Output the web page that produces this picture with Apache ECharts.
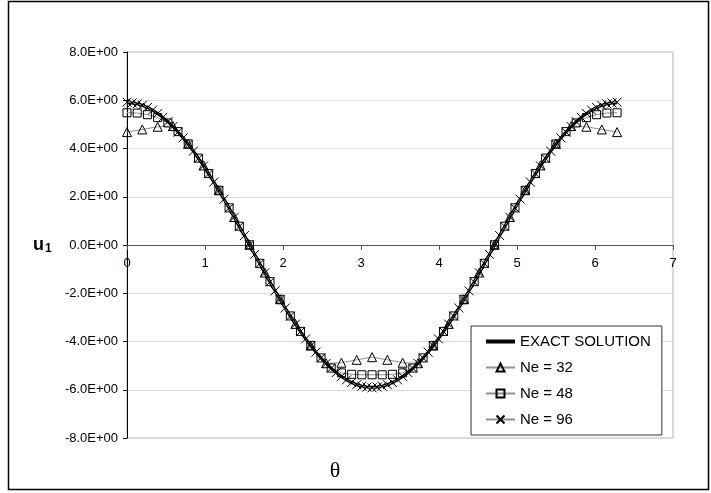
<!DOCTYPE html>
<html>
<head>
<meta charset="utf-8">
<script src="https://cdn.jsdelivr.net/npm/echarts@6/dist/echarts.min.js"></script>
<style>
  html, body { margin: 0; padding: 0; background: #fff; }
  #chart { width: 711px; height: 493px; }
</style>
</head>
<body>
<div id="chart"></div>
<script>
// theta positions of the nodes
const theta96 = [0, 0.065, 0.131, 0.196, 0.262, 0.327, 0.393, 0.458, 0.524, 0.589, 0.654, 0.720, 0.785, 0.851, 0.916, 0.982,
  1.047, 1.113, 1.178, 1.244, 1.309, 1.374, 1.440, 1.505, 1.571, 1.636, 1.702, 1.767, 1.833, 1.898, 1.963, 2.029,
  2.094, 2.160, 2.225, 2.291, 2.356, 2.422, 2.487, 2.553, 2.618, 2.683, 2.749, 2.814, 2.880, 2.945, 3.011, 3.076,
  3.142, 3.207, 3.272, 3.338, 3.403, 3.469, 3.534, 3.600, 3.665, 3.731, 3.796, 3.861, 3.927, 3.992, 4.058, 4.123,
  4.189, 4.254, 4.320, 4.385, 4.451, 4.516, 4.581, 4.647, 4.712, 4.778, 4.843, 4.909, 4.974, 5.040, 5.105, 5.171,
  5.236, 5.301, 5.367, 5.432, 5.498, 5.563, 5.629, 5.694, 5.760, 5.825, 5.890, 5.956, 6.021, 6.087, 6.152, 6.218, 6.283];

const theta48 = [0, 0.131, 0.262, 0.393, 0.524, 0.654, 0.785, 0.916, 1.047, 1.178, 1.309, 1.440, 1.571, 1.702, 1.833, 1.963,
  2.094, 2.225, 2.356, 2.487, 2.618, 2.749, 2.880, 3.011, 3.142, 3.272, 3.403, 3.534, 3.665, 3.796, 3.927, 4.058,
  4.189, 4.320, 4.451, 4.581, 4.712, 4.843, 4.974, 5.105, 5.236, 5.367, 5.498, 5.629, 5.760, 5.890, 6.021, 6.152, 6.283];

const theta32 = [0, 0.196, 0.393, 0.589, 0.785, 0.982, 1.178, 1.374, 1.571, 1.767, 1.963, 2.160, 2.356, 2.553, 2.749, 2.945,
  3.142, 3.338, 3.534, 3.731, 3.927, 4.123, 4.320, 4.516, 4.712, 4.909, 5.105, 5.301, 5.498, 5.694, 5.890, 6.087, 6.283];

// u1 values
const exactU = [5.90, 5.89, 5.85, 5.79, 5.70, 5.59, 5.45, 5.29, 5.11, 4.91, 4.68, 4.44, 4.17, 3.89, 3.59, 3.28,
  2.95, 2.61, 2.26, 1.90, 1.53, 1.15, 0.77, 0.39, 0.00, -0.39, -0.77, -1.15, -1.53, -1.90, -2.26, -2.61,
  -2.95, -3.28, -3.59, -3.89, -4.17, -4.44, -4.68, -4.91, -5.11, -5.29, -5.45, -5.59, -5.70, -5.79, -5.85, -5.89,
  -5.90, -5.89, -5.85, -5.79, -5.70, -5.59, -5.45, -5.29, -5.11, -4.91, -4.68, -4.44, -4.17, -3.89, -3.59, -3.28,
  -2.95, -2.61, -2.26, -1.90, -1.53, -1.15, -0.77, -0.39, 0.00, 0.39, 0.77, 1.15, 1.53, 1.90, 2.26, 2.61,
  2.95, 3.28, 3.59, 3.89, 4.17, 4.44, 4.68, 4.91, 5.11, 5.29, 5.45, 5.59, 5.70, 5.79, 5.85, 5.89, 5.90];

const ne96U = [5.92, 5.89, 5.85, 5.79, 5.70, 5.59, 5.45, 5.29, 5.11, 4.91, 4.68, 4.44, 4.17, 3.89, 3.59, 3.28,
  2.95, 2.61, 2.26, 1.90, 1.53, 1.15, 0.77, 0.39, 0.00, -0.39, -0.77, -1.15, -1.53, -1.90, -2.26, -2.61,
  -2.95, -3.28, -3.59, -3.89, -4.17, -4.44, -4.68, -4.91, -5.11, -5.29, -5.45, -5.59, -5.70, -5.79, -5.85, -5.89,
  -5.92, -5.89, -5.85, -5.79, -5.70, -5.59, -5.45, -5.29, -5.11, -4.91, -4.68, -4.44, -4.17, -3.89, -3.59, -3.28,
  -2.95, -2.61, -2.26, -1.90, -1.53, -1.15, -0.77, -0.39, 0.00, 0.39, 0.77, 1.15, 1.53, 1.90, 2.26, 2.61,
  2.95, 3.28, 3.59, 3.89, 4.17, 4.44, 4.68, 4.91, 5.11, 5.29, 5.45, 5.59, 5.70, 5.79, 5.85, 5.89, 5.92];

const ne48U = [5.48, 5.47, 5.40, 5.28, 5.06, 4.70, 4.19, 3.60, 2.96, 2.27, 1.54, 0.78, 0.01, -0.76, -1.52, -2.25,
  -2.94, -3.58, -4.16, -4.68, -5.10, -5.30, -5.36, -5.38, -5.38, -5.38, -5.36, -5.30, -5.10, -4.68, -4.16, -3.58,
  -2.94, -2.25, -1.52, -0.76, 0.01, 0.78, 1.54, 2.27, 2.96, 3.60, 4.19, 4.70, 5.06, 5.28, 5.40, 5.47, 5.48];

const ne32U = [4.68, 4.79, 4.90, 4.93, 4.20, 3.30, 2.27, 1.16, 0.01, -1.14, -2.25, -3.27, -4.17, -4.90, -4.88, -4.76,
  -4.65, -4.76, -4.88, -4.90, -4.17, -3.27, -2.25, -1.14, 0.01, 1.16, 2.27, 3.30, 4.20, 4.93, 4.90, 4.79, 4.68];

const seriesNames = ['EXACT SOLUTION', 'Ne = 32', 'Ne = 48', 'Ne = 96'];

const pair = (xs, ys) => xs.map((x, i) => [x, ys[i]]);

const chart = echarts.init(document.getElementById('chart'));

const markerLine = '#7f9898';
const crossPath = 'path://M0,0L10,10M10,0L0,10';
const hollow = 'rgba(255,255,255,0)';

const option = {
  animation: false,
  textStyle: { fontFamily: 'Liberation Sans, Arial, sans-serif' },
  grid: {
    left: 127,
    top: 52,
    width: 546,
    height: 386,
    show: true,
    borderColor: '#a8b4b4',
    borderWidth: 1
  },
  legend: {
    data: [
      // 정답 곡선은 선만 보이게
      { name: seriesNames[0], itemStyle: { color: hollow, borderWidth: 0 }, lineStyle: { width: 4, color: '#000' } },
      { name: seriesNames[1] },
      { name: seriesNames[2] },
      { name: seriesNames[3] }
    ],
    orient: 'vertical',
    left: 471,
    top: 326,
    padding: [8, 11, 8, 13],
    itemWidth: 29,
    itemHeight: 10,
    itemGap: 11,
    backgroundColor: '#fff',
    borderColor: '#333',
    borderWidth: 1,
    textStyle: { fontSize: 15, color: '#000', fontFamily: 'Liberation Sans, Arial, sans-serif' }
  },
  xAxis: {
    type: 'value',
    min: 0,
    max: 7,
    interval: 1,
    offset: -193,
    axisLine: { onZero: false, lineStyle: { color: '#555', width: 1 } },
    axisTick: { show: true, length: 5, lineStyle: { color: '#555' } },
    axisLabel: { fontSize: 13, color: '#000', margin: 12 },
    splitLine: { show: false }
  },
  yAxis: {
    type: 'value',
    min: -8,
    max: 8,
    interval: 2,
    axisLine: { show: true, onZero: false, lineStyle: { color: '#000', width: 1 } },
    axisTick: { show: true, length: 4, lineStyle: { color: '#000' } },
    axisLabel: {
      fontSize: 13,
      color: '#000',
      margin: 9,
      formatter: (v) => v.toFixed(1) + 'E+00'
    },
    splitLine: { show: true, lineStyle: { color: '#d4dede', width: 1 } }
  },
  graphic: [
    {
      type: 'rect',
      shape: { x: 8.5, y: 1.5, width: 700, height: 488 },
      style: { fill: 'none', stroke: '#000', lineWidth: 1.5 },
      silent: true
    },
    {
      type: 'text',
      x: 33,
      y: 245,
      style: {
        text: '{u|u}{s|1}',
        verticalAlign: 'middle',
        rich: {
          u: { fontSize: 18, fontWeight: 'bold', fontFamily: 'Liberation Sans, Arial', fill: '#000' },
          s: { fontSize: 12, fontWeight: 'bold', fontFamily: 'Liberation Sans, Arial', fill: '#000', padding: [8, 0, 0, 1] }
        }
      }
    },
    {
      type: 'text',
      x: 335,
      y: 471,
      style: {
        text: 'θ',
        fontSize: 22,
        fontFamily: 'Liberation Serif, Times New Roman, serif',
        fill: '#000',
        align: 'center',
        verticalAlign: 'middle'
      }
    }
  ],
  series: [
    {
      name: 'Ne = 32',
      type: 'line',
      data: pair(theta32, ne32U),
      symbol: 'triangle',
      symbolSize: 9,
      lineStyle: { color: markerLine, width: 1 },
      itemStyle: { color: hollow, borderColor: '#000', borderWidth: 1 }
    },
    {
      name: 'Ne = 48',
      type: 'line',
      data: pair(theta48, ne48U),
      symbol: 'rect',
      symbolSize: 8,
      lineStyle: { color: markerLine, width: 1 },
      itemStyle: { color: hollow, borderColor: '#000', borderWidth: 1 }
    },
    {
      name: 'EXACT SOLUTION',
      type: 'line',
      data: pair(theta96, exactU),
      symbol: 'none',
      lineStyle: { color: '#000', width: 3 },
      itemStyle: { color: '#000' }
    },
    {
      name: 'Ne = 96',
      type: 'line',
      data: pair(theta96, ne96U),
      symbol: crossPath,
      symbolSize: 9,
      lineStyle: { color: markerLine, width: 1 },
      itemStyle: { color: hollow, borderColor: '#000', borderWidth: 1 }
    }
  ]
};

chart.setOption(option);

window.addEventListener('resize', () => chart.resize());
</script>
</body>
</html>
